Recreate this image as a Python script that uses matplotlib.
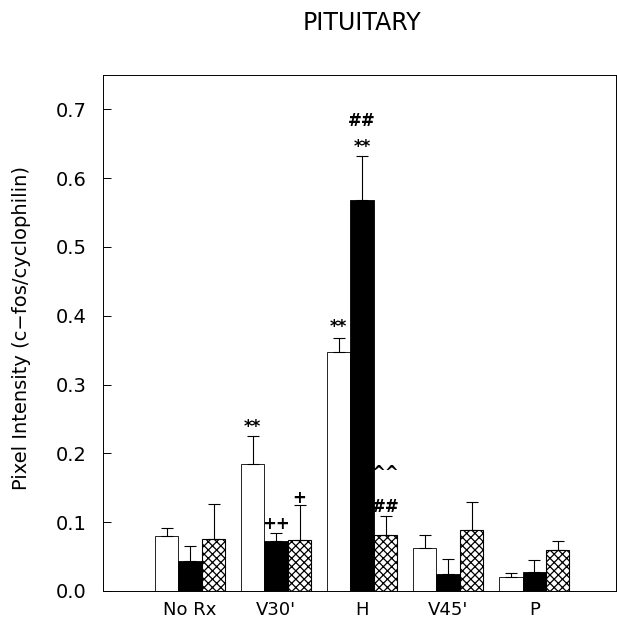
import numpy as np
import matplotlib
matplotlib.use("Agg")
import matplotlib.pyplot as plt

groups = ["No Rx", "V30'", "H", "V45'", "P"]

white_vals = [0.080, 0.185, 0.348, 0.063, 0.020]
white_err = [0.012, 0.040, 0.020, 0.018, 0.006]
black_vals = [0.043, 0.073, 0.569, 0.025, 0.028]
black_err = [0.022, 0.011, 0.063, 0.022, 0.017]
hatch_vals = [0.076, 0.074, 0.082, 0.089, 0.060]
hatch_err = [0.051, 0.051, 0.027, 0.041, 0.013]

# (group index, series offset index, y, text)
marks = [
    (1, -1, 0.239, "**"),
    (1, 0, 0.098, "++"),
    (1, 1, 0.135, "+"),
    (2, -1, 0.383, "**"),
    (2, 0, 0.646, "**"),
    (2, 0, 0.683, "##"),
    (2, 1, 0.122, "##"),
    (2, 1, 0.172, "^^"),
]

plt.rcParams["hatch.linewidth"] = 0.9

fig = plt.figure(figsize=(6.17, 6.22), dpi=100)
ax = fig.add_axes([103 / 617, 31 / 622, 513 / 617, 516 / 622])

x = np.arange(len(groups))
w = 0.273
err_kw = dict(ecolor="black", elinewidth=0.8, capsize=4, capthick=0.8)

ax.bar(x - w, white_vals, w, color="white", edgecolor="black", linewidth=0.6,
       yerr=[np.zeros(5), white_err], error_kw=err_kw)
ax.bar(x, black_vals, w, color="black", edgecolor="black", linewidth=0.6,
       yerr=[np.zeros(5), black_err], error_kw=err_kw)
ax.bar(x + w, hatch_vals, w, color="white", edgecolor="black", hatch="xxxx",
       linewidth=0.8, yerr=[np.zeros(5), hatch_err], error_kw=err_kw)

for g, off, y, txt in marks:
    ax.text(g + off * w, y, txt, ha="center", va="center", fontsize=12,
            fontweight="bold")

ax.set_xlim(-1.012, 4.95)
ax.set_ylim(0, 0.75)
ax.set_yticks(np.arange(0, 0.71, 0.1))
ax.set_yticklabels([f"{v:.1f}" for v in np.arange(0, 0.71, 0.1)])
ax.set_xticks(x)
ax.set_xticklabels(groups)
ax.tick_params(axis="y", direction="in", length=6, width=0.7, labelsize=14,
               pad=12)
ax.tick_params(axis="x", length=0, labelsize=13, pad=7)
for s in ax.spines.values():
    s.set_linewidth(0.7)

ax.set_ylabel("Pixel Intensity (c\u2212fos/cyclophilin)", fontsize=14)
ax.yaxis.set_label_coords(-72 / 513, 0.51)
fig.text(362 / 617, 0.963, "PITUITARY", ha="center", va="center", fontsize=17)

fig.savefig("out.png", dpi=100)
